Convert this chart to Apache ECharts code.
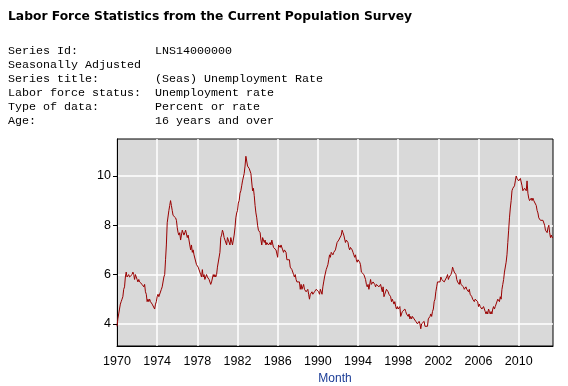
<!DOCTYPE html>
<html>
<head>
<meta charset="utf-8">
<script src="https://cdn.jsdelivr.net/npm/echarts@6/dist/echarts.min.js"></script>
<style>
html,body{margin:0;padding:0;background:#fff;}
#chart{width:568px;height:386px;}
</style>
</head>
<body>
<div id="chart"></div>
<script>
// ---- Data ----
const title = "Labor Force Statistics from the Current Population Survey";
const infoLabels = ["Series Id:", "Seasonally Adjusted", "Series title:", "Labor force status:", "Type of data:", "Age:"];
const infoValues = ["LNS14000000", "", "(Seas) Unemployment Rate", "Unemployment rate", "Percent or rate", "16 years and over"];
const startYear = 1970;
const xAxisName = "Month";
const yTicks = [4, 6, 8, 10];
const xTickYears = [1970, 1974, 1978, 1982, 1986, 1990, 1994, 1998, 2002, 2006, 2010];
// Monthly unemployment rate, one row per year (Jan..Dec)
const r1970 = [3.9,4.2,4.4,4.6,4.8,4.9,5.0,5.1,5.4,5.5,5.9,6.1];
const r1971 = [5.9,5.9,6.0,5.9,5.9,5.9,6.0,6.1,6.0,5.8,6.0,6.0];
const r1972 = [5.8,5.7,5.8,5.7,5.7,5.7,5.6,5.6,5.5,5.6,5.3,5.2];
const r1973 = [4.9,5.0,4.9,5.0,4.9,4.9,4.8,4.8,4.8,4.6,4.8,4.9];
const r1974 = [5.1,5.2,5.1,5.1,5.1,5.4,5.5,5.5,5.9,6.0,6.6,7.2];
const r1975 = [8.1,8.1,8.6,8.8,9.0,8.8,8.6,8.4,8.4,8.4,8.3,8.2];
const r1976 = [7.9,7.7,7.6,7.7,7.4,7.6,7.8,7.8,7.6,7.7,7.8,7.8];
const r1977 = [7.5,7.6,7.4,7.2,7.0,7.2,6.9,7.0,6.8,6.8,6.8,6.4];
const r1978 = [6.4,6.3,6.3,6.1,6.0,5.9,6.2,5.9,6.0,5.8,5.9,6.0];
const r1979 = [5.9,5.9,5.8,5.8,5.6,5.7,5.7,6.0,5.9,6.0,5.9,6.0];
const r1980 = [6.3,6.3,6.3,6.9,7.5,7.6,7.8,7.7,7.5,7.5,7.5,7.2];
const r1981 = [7.5,7.4,7.4,7.2,7.5,7.5,7.2,7.4,7.6,7.9,8.3,8.5];
const r1982 = [8.6,8.9,9.0,9.3,9.4,9.6,9.8,9.8,10.1,10.4,10.8,10.8];
const r1983 = [10.4,10.4,10.3,10.2,10.1,10.1,9.4,9.5,9.2,8.8,8.5,8.3];
const r1984 = [8.0,7.8,7.8,7.7,7.4,7.2,7.5,7.5,7.3,7.4,7.2,7.3];
const r1985 = [7.3,7.2,7.2,7.3,7.2,7.4,7.4,7.1,7.1,7.1,7.0,7.0];
const r1986 = [6.7,7.2,7.2,7.1,7.2,7.2,7.0,6.9,7.0,7.0,6.9,6.6];
const r1987 = [6.6,6.6,6.6,6.3,6.3,6.2,6.1,6.0,5.9,6.0,5.8,5.7];
const r1988 = [5.7,5.7,5.7,5.4,5.6,5.4,5.4,5.6,5.4,5.4,5.3,5.3];
const r1989 = [5.4,5.2,5.0,5.2,5.2,5.3,5.2,5.2,5.3,5.3,5.4,5.4];
const r1990 = [5.4,5.3,5.2,5.4,5.4,5.2,5.5,5.7,5.9,5.9,6.2,6.3];
const r1991 = [6.4,6.6,6.8,6.7,6.9,6.9,6.8,6.9,6.9,7.0,7.0,7.3];
const r1992 = [7.3,7.4,7.4,7.4,7.6,7.8,7.7,7.6,7.6,7.3,7.4,7.4];
const r1993 = [7.3,7.1,7.0,7.1,7.1,7.0,6.9,6.8,6.7,6.8,6.6,6.5];
const r1994 = [6.6,6.6,6.5,6.4,6.1,6.1,6.1,6.0,5.9,5.8,5.6,5.5];
const r1995 = [5.6,5.4,5.4,5.8,5.6,5.6,5.7,5.7,5.6,5.5,5.6,5.6];
const r1996 = [5.6,5.5,5.5,5.6,5.6,5.3,5.5,5.1,5.2,5.2,5.4,5.4];
const r1997 = [5.3,5.2,5.2,5.1,4.9,5.0,4.9,4.8,4.9,4.7,4.6,4.7];
const r1998 = [4.6,4.6,4.7,4.3,4.4,4.5,4.5,4.5,4.6,4.5,4.4,4.4];
const r1999 = [4.3,4.4,4.2,4.3,4.2,4.3,4.3,4.2,4.2,4.1,4.1,4.0];
const r2000 = [4.0,4.1,4.0,3.8,4.0,4.0,4.0,4.1,3.9,3.9,3.9,3.9];
const r2001 = [4.2,4.2,4.3,4.4,4.3,4.5,4.6,4.9,5.0,5.3,5.5,5.7];
const r2002 = [5.7,5.7,5.7,5.9,5.8,5.8,5.8,5.7,5.7,5.7,5.9,6.0];
const r2003 = [5.8,5.9,5.9,6.0,6.1,6.3,6.2,6.1,6.1,6.0,5.8,5.7];
const r2004 = [5.7,5.6,5.8,5.6,5.6,5.6,5.5,5.4,5.4,5.5,5.4,5.4];
const r2005 = [5.3,5.4,5.2,5.2,5.1,5.0,5.0,4.9,5.0,5.0,5.0,4.9];
const r2006 = [4.7,4.8,4.7,4.7,4.6,4.6,4.7,4.7,4.5,4.4,4.5,4.4];
const r2007 = [4.6,4.5,4.4,4.5,4.4,4.6,4.7,4.6,4.7,4.7,4.7,5.0];
const r2008 = [5.0,4.9,5.1,5.0,5.4,5.6,5.8,6.1,6.1,6.5,6.8,7.3];
const r2009 = [7.8,8.3,8.7,9.0,9.4,9.5,9.5,9.6,9.8,10.0,9.9,9.9];
const r2010 = [9.8,9.8,9.9,9.9,9.6,9.4,9.4,9.5,9.5,9.4,9.8,9.3];
const r2011 = [9.1,9.0,9.0,9.1,9.0,9.1,9.0,9.0,9.0,8.8,8.6,8.5];
const r2012 = [8.3,8.3,8.2,8.2,8.2,8.2,8.2,8.0,7.8,7.8,7.7,7.9];
const r2013 = [8.0,7.7,7.5,7.6,7.5,7.5];

const rows = [r1970,r1971,r1972,r1973,r1974,r1975,r1976,r1977,r1978,r1979,
  r1980,r1981,r1982,r1983,r1984,r1985,r1986,r1987,r1988,r1989,
  r1990,r1991,r1992,r1993,r1994,r1995,r1996,r1997,r1998,r1999,
  r2000,r2001,r2002,r2003,r2004,r2005,r2006,r2007,r2008,r2009,
  r2010,r2011,r2012,r2013];

const months = [];
const values = [];
rows.forEach((row, i) => {
  row.forEach((v, m) => {
    months.push((startYear + i) + '-' + String(m + 1).padStart(2, '0'));
    values.push(v);
  });
});
const isTickMonth = (idx) => {
  const y = +months[idx].slice(0, 4);
  return months[idx].slice(5) === '01' && xTickYears.indexOf(y) >= 0;
};

const chart = echarts.init(document.getElementById('chart'), null, {renderer: 'canvas'});

const monoFont = '"Liberation Mono", "Courier New", monospace';
const infoGraphics = [];
infoLabels.forEach((lab, i) => {
  infoGraphics.push({
    type: 'text', left: 8, top: 45 + i * 14,
    style: {text: lab, font: '11.67px ' + monoFont, fill: '#000'}
  });
  if (infoValues[i]) {
    infoGraphics.push({
      type: 'text', left: 155, top: 45 + i * 14,
      style: {text: infoValues[i], font: '11.67px ' + monoFont, fill: '#000'}
    });
  }
});

chart.setOption({
  animation: false,
  backgroundColor: '#ffffff',
  graphic: [
    {type: 'text', left: 8, top: 11,
     style: {text: title, font: 'bold 12.3px "DejaVu Sans", Verdana, sans-serif', fill: '#000'}}
  ].concat(infoGraphics),
  grid: {
    left: 117, top: 139, right: 15, bottom: 40,
    outerBoundsMode: 'none',
    containLabel: false,
    show: true, backgroundColor: '#d9d9d9', borderColor: '#000', borderWidth: 1
  },
  xAxis: {
    type: 'category',
    data: months,
    boundaryGap: false,
    name: xAxisName,
    nameLocation: 'middle',
    nameGap: 27,
    nameTextStyle: {color: '#1a3c96', fontSize: 12, fontFamily: '"Liberation Sans", Arial, sans-serif'},
    axisLine: {show: true, lineStyle: {color: '#000', width: 1}},
    axisTick: {show: false, interval: (idx) => isTickMonth(idx)},
    axisLabel: {
      interval: (idx) => isTickMonth(idx),
      formatter: (v) => v.slice(0, 4),
      color: '#000', fontSize: 12.5, margin: 9,
      fontFamily: '"Liberation Sans", Arial, sans-serif'
    },
    splitLine: {show: true, interval: (idx) => isTickMonth(idx), lineStyle: {color: '#ffffff', width: 1.5}}
  },
  yAxis: {
    type: 'value',
    min: 3.1, max: 11.5,
    axisLine: {show: true, lineStyle: {color: '#000', width: 1}},
    axisTick: {show: true, length: 4, customValues: yTicks, lineStyle: {color: '#000'}},
    axisLabel: {
      customValues: yTicks,
      color: '#000', fontSize: 12.5, margin: 6,
      fontFamily: '"Liberation Sans", Arial, sans-serif'
    },
    splitLine: {show: true, lineStyle: {color: '#ffffff', width: 1.5}}
  },
  series: [{
    type: 'line',
    data: values,
    showSymbol: false,
    symbol: 'none',
    lineStyle: {color: '#990000', width: 1},
    itemStyle: {color: '#990000'}
  }]
});
</script>
</body>
</html>
